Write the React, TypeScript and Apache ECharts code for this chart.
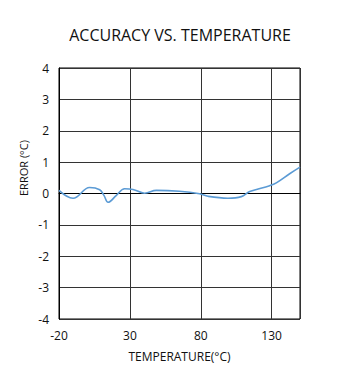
import React, { useEffect, useRef } from "react";
import * as echarts from "echarts";

const temperature = [-20, -10.1, 1.6, 8.7, 11.7, 14.6, 20.5, 26.3, 32.2, 40.4, 48.7, 65, 79.2, 85.1, 99.2, 108.6, 114.5, 128.6, 133.3, 142.7, 150];
const errorValues = [0.1, -0.15, 0.19, 0.12, -0.06, -0.28, -0.06, 0.15, 0.13, 0.01, 0.1, 0.07, -0.01, -0.09, -0.15, -0.1, 0.06, 0.25, 0.34, 0.63, 0.84];
const X_MIN = -20;
const X_MAX = 150;

const FONT = "'Open Sans', 'Noto Sans', sans-serif";

export default function App() {
  const ref = useRef<HTMLDivElement>(null);
  useEffect(() => {
    document.body.style.margin = "0";
    if (!ref.current) return;
    const chart = echarts.init(ref.current, undefined, { renderer: "svg" });
    const gridLine = { show: true, lineStyle: { color: "#333", width: 1 } };
    chart.setOption({
      animation: false,
      backgroundColor: "#fff",
      title: {
        text: "ACCURACY VS. TEMPERATURE",
        left: "center",
        top: 22,
        textStyle: { fontFamily: FONT, fontSize: 16, fontWeight: "normal", color: "#111" },
      },
      graphic: [
        {
          type: "text",
          x: 23,
          y: 168,
          rotation: Math.PI / 2,
          style: {
            text: "ERROR (°C)",
            fontFamily: FONT,
            fontSize: 11,
            fill: "#111",
            align: "center",
            verticalAlign: "middle",
          },
        },
      ],
      grid: {
        left: 59,
        top: 68,
        right: 60,
        bottom: 57,
        show: true,
        borderColor: "#000",
        borderWidth: 1,
        backgroundColor: "transparent",
      },
      xAxis: {
        type: "value",
        // axis runs in offset units (temperature - X_MIN) so ticks fall at -20, 30, 80, 130
        min: 0,
        max: X_MAX - X_MIN,
        interval: 50,
        name: "TEMPERATURE(°C)",
        nameLocation: "middle",
        nameGap: 31,
        nameTextStyle: { fontFamily: FONT, fontSize: 12, color: "#111" },
        axisLine: { show: true, lineStyle: { color: "#000" } },
        axisTick: { show: false },
        axisLabel: {
          margin: 10,
          fontFamily: FONT,
          fontSize: 12,
          color: "#111",
          showMaxLabel: false,
          formatter: (v: number) => String(v + X_MIN),
        },
        splitLine: gridLine,
      },
      yAxis: {
        type: "value",
        min: -4,
        max: 4,
        interval: 1,
        axisLine: { show: true, lineStyle: { color: "#000" } },
        axisTick: { show: false },
        axisLabel: { margin: 10, fontFamily: FONT, fontSize: 12, color: "#111" },
        splitLine: gridLine,
      },
      series: [
        {
          type: "line",
          data: temperature.map((t, i) => [t - X_MIN, errorValues[i]]),
          smooth: 0.4,
          showSymbol: false,
          symbol: "none",
          lineStyle: { color: "#5B9BD5", width: 1.6 },
        },
      ],
    });
    return () => chart.dispose();
  }, []);
  return <div ref={ref} style={{ width: 360, height: 376 }} />;
}
